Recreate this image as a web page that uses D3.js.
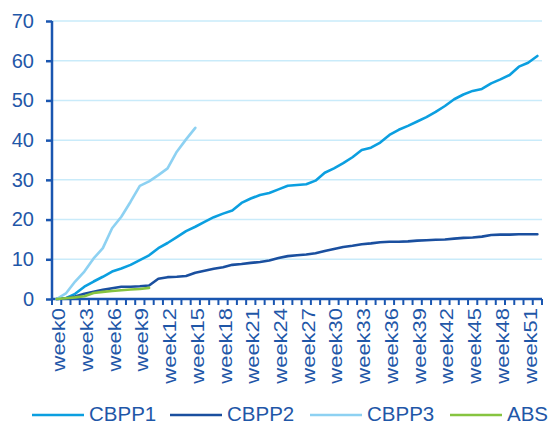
<!DOCTYPE html>
<html>
<head>
<meta charset="utf-8">
<script src="https://cdn.jsdelivr.net/npm/d3@7"></script>
<style>
  html, body { margin: 0; padding: 0; background: #ffffff; }
  svg { display: block; font-family: "Liberation Sans", Arial, sans-serif; }
</style>
</head>
<body>
<svg id="chart" width="552" height="425"></svg>
<script>
// Weekly cumulative purchases (EUR bn) per programme
const weeks = d3.range(0, 53).map(i => "week" + i);
const tickLabels = d3.range(0, 53, 3).map(i => "week" + i);
const yTicks = [0, 10, 20, 30, 40, 50, 60, 70];

const cbpp1 = [0, 0.2, 1.3, 3.1, 4.4, 5.6, 6.9, 7.7, 8.6, 9.8,
  11.0, 12.8, 14.1, 15.6, 17.1, 18.2, 19.4, 20.6, 21.5, 22.3,
  24.2, 25.3, 26.2, 26.7, 27.6, 28.5, 28.7, 28.9, 29.8, 31.8,
  32.9, 34.2, 35.7, 37.5, 38.1, 39.4, 41.3, 42.6, 43.6, 44.7,
  45.8, 47.1, 48.6, 50.3, 51.5, 52.4, 52.9, 54.3, 55.3, 56.4,
  58.5, 59.5, 61.2];
const cbpp2 = [0, 0.2, 0.6, 1.3, 1.8, 2.3, 2.7, 3.1, 3.1, 3.2,
  3.4, 5.1, 5.5, 5.6, 5.8, 6.6, 7.1, 7.6, 8.0, 8.6,
  8.8, 9.1, 9.3, 9.7, 10.3, 10.8, 11.0, 11.2, 11.5, 12.1,
  12.6, 13.1, 13.4, 13.8, 14.0, 14.3, 14.4, 14.4, 14.5, 14.7,
  14.8, 14.9, 15.0, 15.2, 15.4, 15.5, 15.7, 16.1, 16.2, 16.2,
  16.3, 16.3, 16.3];
const cbpp3 = [0, 1.4, 4.4, 6.9, 10.2, 12.8, 17.8, 20.7, 24.5, 28.5,
  29.6, 31.2, 32.9, 37.1, 40.2, 43.1];
const abs = [0, 0.2, 0.4, 0.7, 1.5, 1.8, 2.0, 2.2, 2.4, 2.5, 2.8];

const series = [
  { name: "CBPP1", values: cbpp1, color: "#0b9fe0" },
  { name: "CBPP2", values: cbpp2, color: "#1a4f9f" },
  { name: "CBPP3", values: cbpp3, color: "#8dd1f2" },
  { name: "ABS",   values: abs,   color: "#86c440" }
];

const axisColor = "#1a56b0";
const textColor = "#1f57a8";
const gridColor = "#c9ebfa";

const svg = d3.select("#chart");
const plot = { left: 52, right: 542, top: 21, bottom: 299 };

const x = d3.scaleBand().domain(weeks).range([plot.left, plot.right]).padding(0);
const y = d3.scaleLinear().domain([0, 70]).range([plot.bottom, plot.top]);
const cx = w => x(w) + x.bandwidth() / 2;

// horizontal gridlines
svg.append("g").selectAll("line")
  .data(yTicks.filter(t => t > 0))
  .join("line")
  .attr("x1", plot.left).attr("x2", plot.right)
  .attr("y1", d => y(d)).attr("y2", d => y(d))
  .attr("stroke", gridColor).attr("stroke-width", 1.5);

// y axis
const yAxis = svg.append("g")
  .attr("transform", `translate(${plot.left},0)`)
  .call(d3.axisLeft(y).tickValues(yTicks).tickSize(6).tickPadding(12));
yAxis.select(".domain").attr("stroke", axisColor).attr("stroke-width", 2.5)
  .attr("d", `M0,${plot.top}V${plot.bottom}`);
yAxis.selectAll(".tick line").attr("stroke", axisColor).attr("stroke-width", 2.5);
yAxis.selectAll(".tick text").attr("fill", textColor)
  .style("font-size", "20px");

// x axis: baseline, tick marks between categories, rotated labels
const xg = svg.append("g");
xg.append("line")
  .attr("x1", plot.left).attr("x2", plot.right)
  .attr("y1", plot.bottom).attr("y2", plot.bottom)
  .attr("stroke", axisColor).attr("stroke-width", 2.5);
const bounds = weeks.map(w => x(w)).concat([plot.right]);
xg.selectAll("line.tk").data(bounds).join("line").attr("class", "tk")
  .attr("x1", d => d).attr("x2", d => d)
  .attr("y1", plot.bottom).attr("y2", plot.bottom + 6)
  .attr("stroke", axisColor).attr("stroke-width", 2);
// labels are drawn slightly elongated along their reading direction
xg.selectAll("text").data(tickLabels).join("text")
  .attr("transform", d => `translate(${cx(d) + 8.5},${plot.bottom + 9}) rotate(-90) scale(1.22,1)`)
  .attr("text-anchor", "end")
  .attr("fill", textColor)
  .style("font-size", "18px")
  .text(d => d);

// series lines
const line = d3.line()
  .x((d, i) => cx(weeks[i]))
  .y(d => y(d));
svg.append("g").selectAll("path")
  .data(series)
  .join("path")
  .attr("d", d => line(d.values))
  .attr("fill", "none")
  .attr("stroke", d => d.color)
  .attr("stroke-width", 2.6)
  .attr("stroke-linejoin", "round")
  .attr("stroke-linecap", "round");

// legend
const legendX = [32, 170, 310, 450];
const lg = svg.append("g");
const item = lg.selectAll("g").data(series).join("g")
  .attr("transform", (d, i) => `translate(${legendX[i]},415)`);
item.append("line")
  .attr("x1", 0).attr("x2", 52).attr("y1", 0).attr("y2", 0)
  .attr("stroke", d => d.color).attr("stroke-width", 2.6);
item.append("text")
  .attr("x", 57).attr("y", 6)
  .attr("fill", textColor)
  .style("font-size", "20.5px")
  .text(d => d.name);
</script>
</body>
</html>
